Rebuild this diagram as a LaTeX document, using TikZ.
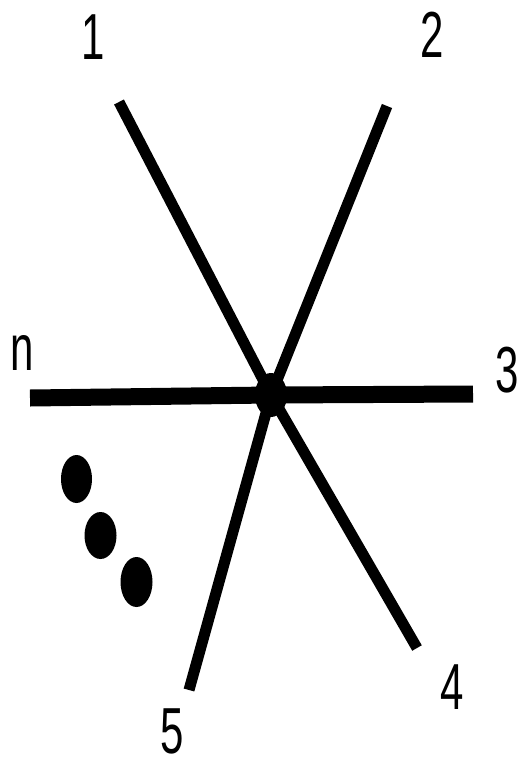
\documentclass[tikz,border=0pt]{standalone}
\usepackage{fontspec}
\setmainfont{Liberation Sans}
\begin{document}
\begin{tikzpicture}[x=1pt,y=-1pt,
  spoke/.style={line width=11pt, line cap=butt},
  hspoke/.style={line width=17pt, line cap=butt},
  lbl/.style={font=\fontsize{42}{42}\selectfont, yscale=1.55, inner sep=0pt, text height=30pt, text depth=0pt},
  lblx/.style={font=\fontsize{42}{42}\selectfont, yscale=1.55, inner sep=0pt, text height=22pt, text depth=0pt},
  blob/.style={fill=black}]
\useasboundingbox (0,0) rectangle (521,761);
\coordinate (c) at (271,395);
\coordinate (e1) at (119,102);
\coordinate (e2) at (387,106);
\coordinate (e3) at (473,394);
\coordinate (en) at (30,398);
\coordinate (e4) at (417,648);
\coordinate (e5) at (189,690);
\draw[spoke] (e1) -- (c);
\draw[spoke] (e2) -- (c);
\draw[spoke] (c) -- (e4);
\draw[spoke] (c) -- (e5);
\draw[hspoke] (en) -- (c) -- (e3);
\fill[blob] (c) ellipse [x radius=16, y radius=22];
\fill[blob] (76.5,479) ellipse [x radius=15.5, y radius=24];
\fill[blob] (100.5,535.5) ellipse [x radius=16, y radius=23.5];
\fill[blob] (136.5,582) ellipse [x radius=16, y radius=25];
\node[lbl] (l1) at (93,36) {1};
\node[lbl] (l2) at (432,34) {2};
\node[lbl] (l3) at (507,369) {3};
\node[lblx] (ln) at (22,353) {n};
\node[lbl] (l4) at (452,686) {4};
\node[lbl] (l5) at (172,730) {5};
\end{tikzpicture}
\end{document}
